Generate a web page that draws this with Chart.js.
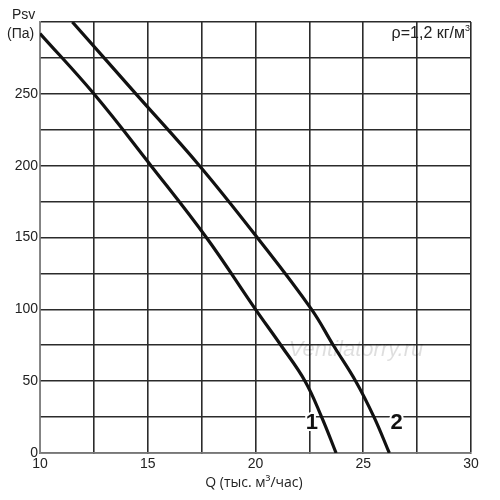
<!DOCTYPE html>
<html>
<head>
<meta charset="utf-8">
<script src="https://cdn.jsdelivr.net/npm/chart.js@4.4.0/dist/chart.umd.min.js"></script>
<style>
	html, body { margin: 0; padding: 0; background: #fff; }
	#wrap { width: 500px; height: 500px; }
</style>
</head>
<body>
<div id="wrap"><canvas id="chart" width="500" height="500"></canvas></div>
<script>
// curve 1: Q (тыс. м3/час) -> Psv (Па)
const q1 = [ 10, 12.5, 15.15, 17.72, 20.0, 21.18, 22.3, 23.07, 23.74 ];
const p1 = [ 292, 250, 200, 150, 100, 75, 50, 25, 0 ];

// curve 2
const q2 = [ 11.5, 14.45, 17.4, 20.08, 22.6, 23.61, 24.65, 25.5, 26.21 ];
const p2 = [ 300, 250, 200, 150, 100, 75, 50, 25, 0 ];

const curveNames = [ '1', '2' ];

const xTicks = [ 10, 15, 20, 25, 30 ];
const yTicks = [ 0, 50, 100, 150, 200, 250 ];

const FONT = '"Liberation Sans", Arial, sans-serif';

function points( qs, ps ) {
	return qs.map( ( q, i ) => ( { x: q, y: ps[ i ] } ) );
}

// texts that sit on top of the plot
const overlay = {
	id: 'overlay',
	afterDatasetsDraw( chart ) {
		const { ctx, scales: { x, y }, chartArea } = chart;
		ctx.save();

		// watermark
		ctx.font = 'italic 22px ' + FONT;
		ctx.fillStyle = 'rgba(0,0,0,0.13)';
		ctx.textAlign = 'center';
		ctx.textBaseline = 'middle';
		ctx.fillText( 'Ventilatorry.ru', 356, 350 );

		// curve numbers
		ctx.font = 'bold 22px ' + FONT;
		ctx.lineWidth = 4;
		ctx.strokeStyle = '#fff';
		ctx.fillStyle = '#111';
		const at = [ [ 22.62, 21 ], [ 26.55, 21 ] ];
		curveNames.forEach( ( n, i ) => {
			const px = x.getPixelForValue( at[ i ][ 0 ] );
			const py = y.getPixelForValue( at[ i ][ 1 ] );
			ctx.strokeText( n, px, py );
			ctx.fillText( n, px, py );
		} );

		// density note
		ctx.font = '16px ' + FONT;
		ctx.textAlign = 'right';
		ctx.textBaseline = 'alphabetic';
		ctx.fillStyle = '#222';
		ctx.fillText( 'ρ=1,2 кг/м', chartArea.right - 6, 38 );
		ctx.font = '9px ' + FONT;
		ctx.textAlign = 'left';
		ctx.fillText( '3', chartArea.right - 6, 31 );

		// y title
		ctx.font = '14px ' + FONT;
		ctx.textAlign = 'left';
		ctx.fillStyle = '#222';
		ctx.fillText( 'Psv', 12, 19 );
		ctx.fillText( '(Па)', 7, 38 );

		// x title
		ctx.font = '14px "Open Sans", sans-serif';
		ctx.textAlign = 'center';
		ctx.fillText( 'Q (тыс. м³/час)', 254, 487 );

		ctx.restore();
	}
};

new Chart( document.getElementById( 'chart' ), {
	type: 'line',
	data: {
		datasets: [
			{ label: curveNames[ 0 ], data: points( q1, p1 ) },
			{ label: curveNames[ 1 ], data: points( q2, p2 ) }
		].map( ds => Object.assign( ds, {
			borderColor: '#111',
			borderWidth: 3.2,
			pointRadius: 0,
			fill: false,
			tension: 0.4
		} ) )
	},
	options: {
		responsive: false,
		animation: false,
		layout: { padding: { top: 22, right: 29, left: 0, bottom: 0 } },
		plugins: {
			legend: { display: false },
			tooltip: { enabled: false }
		},
		scales: {
			x: {
				type: 'linear',
				min: 10,
				max: 30,
				afterFit( s ) { s.height = 47; },
				ticks: {
					stepSize: 2.5,
					padding: 3,
					color: '#222',
					font: { family: FONT, size: 14 },
					maxRotation: 0,
					autoSkip: false,
					callback: v => xTicks.includes( v ) ? String( v ) : ''
				},
				grid: { color: '#2b2b2b', lineWidth: 1.6, tickLength: 0 },
				border: { color: '#777', width: 1.5 }
			},
			y: {
				min: 0,
				max: 300,
				afterFit( s ) { s.width = 40; },
				ticks: {
					stepSize: 25,
					padding: 2,
					color: '#222',
					font: { family: FONT, size: 14 },
					autoSkip: false,
					callback: v => yTicks.includes( v ) ? String( v ) : ''
				},
				grid: { color: '#2b2b2b', lineWidth: 1.6, tickLength: 0 },
				border: { color: '#888', width: 1.5 }
			}
		}
	},
	plugins: [ overlay ]
} );
</script>
</body>
</html>
